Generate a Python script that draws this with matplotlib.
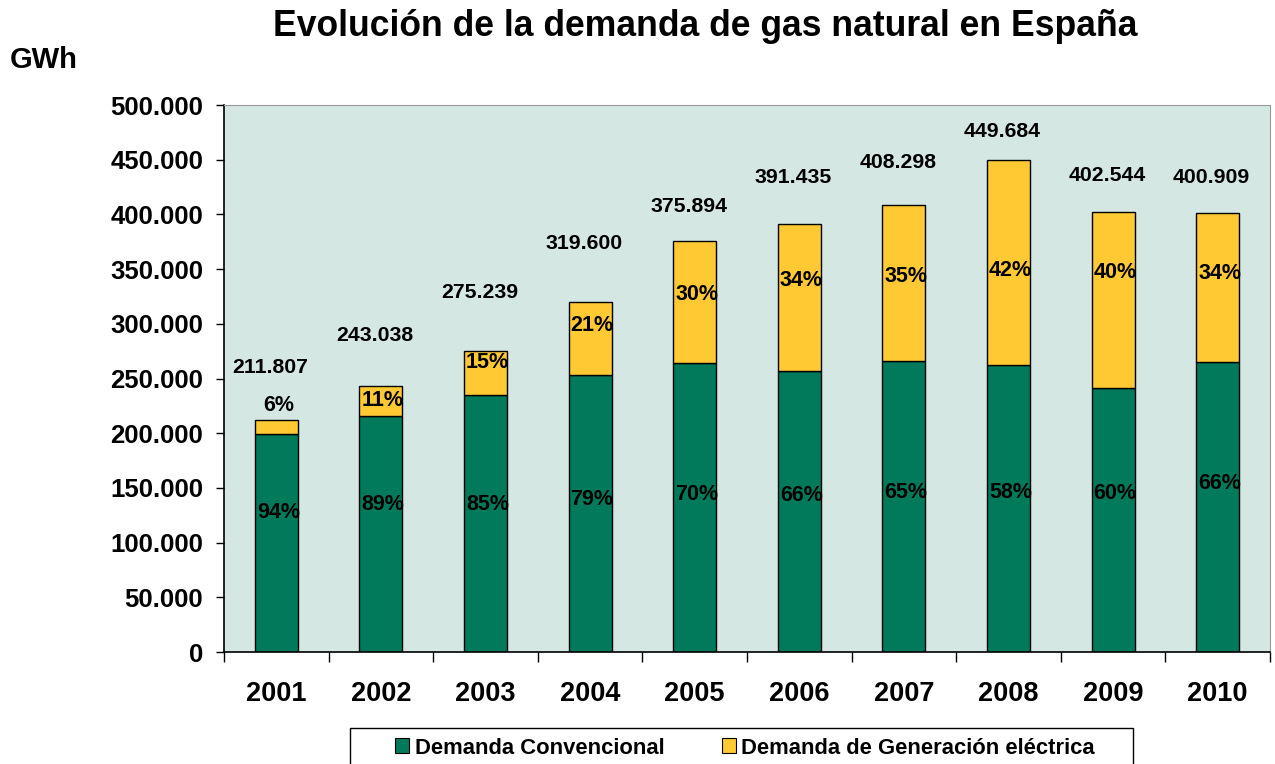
import numpy as np
import matplotlib
matplotlib.use('Agg')
import matplotlib.pyplot as plt
from matplotlib.ticker import FuncFormatter
from matplotlib.patches import Rectangle

plt.rcParams['font.family'] = ['Liberation Sans', 'DejaVu Sans']
plt.rcParams['font.weight'] = 'bold'

# data (GWh)
years = ['2001', '2002', '2003', '2004', '2005', '2006', '2007', '2008', '2009', '2010']
totals = [211807, 243038, 275239, 319600, 375894, 391435, 408298, 449684, 402544, 400909]
conv = [199000, 216000, 235000, 253000, 264000, 257000, 266000, 262000, 241000, 265000]
conv_pct = [94, 89, 85, 79, 70, 66, 65, 58, 60, 66]
gen_pct = [6, 11, 15, 21, 30, 34, 35, 42, 40, 34]
gen = [t - c for t, c in zip(totals, conv)]

# label nudges (pixels) to follow the original placement
total_pad = [53, 51, 58, 59, 34, 46, 43, 29, 36, 36]
conv_nudge = [31, 29, 19, 14, 13, 16, 14, 16, 27, 24]
gen_nudge = [22, 0, 10, 13, 7, 17, 7, -8, 27, 14]

green = '#007A5A'
yellow = '#FFC933'
bg = '#D4E7E3'

fig = plt.figure(figsize=(12.75, 7.64), dpi=100)
ax = fig.add_axes([224 / 1275, 112 / 764, 1046 / 1275, 547 / 764])
ax.set_facecolor(bg)

x = np.arange(len(years))
w = 0.41
ax.bar(x, conv, width=w, color=green, edgecolor='black', linewidth=1.0,
       label='Demanda Convencional')
ax.bar(x, gen, width=w, bottom=conv, color=yellow, edgecolor='black', linewidth=1.0,
       label='Demanda de Generación eléctrica')

fmt = lambda v: f'{v:,.0f}'.replace(',', '.')

for i in range(len(years)):
    ax.annotate(fmt(totals[i]), (x[i], totals[i]), xytext=(-6, total_pad[i]),
                textcoords='offset pixels', ha='center', va='center',
                fontsize=15.3)
    ax.annotate(f'{conv_pct[i]}%', (x[i], conv[i] / 2), xytext=(2, conv_nudge[i]),
                textcoords='offset pixels', ha='center', va='center',
                fontsize=15.5)
    ax.annotate(f'{gen_pct[i]}%', (x[i], conv[i] + gen[i] / 2), xytext=(2, gen_nudge[i]),
                textcoords='offset pixels', ha='center', va='center',
                fontsize=15.5)

ax.set_xlim(-0.5, len(years) - 0.5)
ax.set_ylim(0, 500000)
ax.set_yticks(np.arange(0, 500001, 50000))
ax.yaxis.set_major_formatter(FuncFormatter(lambda v, p: fmt(v)))
ax.tick_params(axis='y', length=6, width=1, direction='out', labelsize=18.5, pad=9)

ax.set_xticks(np.arange(-0.5, len(years), 1.0))
ax.set_xticklabels([])
ax.tick_params(axis='x', which='major', length=7, width=1, direction='out')
ax.set_xticks(x, minor=True)
ax.set_xticklabels(years, minor=True, fontsize=19.5)
ax.tick_params(axis='x', which='minor', length=0, pad=21)

for s in ['top', 'right']:
    ax.spines[s].set_color('#999999')
for s in ['left', 'bottom']:
    ax.spines[s].set_color('black')
    ax.spines[s].set_linewidth(1.2)

fig.text(705 / 1275, 1 - 27 / 764, 'Evolución de la demanda de gas natural en España',
         ha='center', va='center', fontsize=25.6)
fig.text(10 / 1275, 1 - 60 / 764, 'GWh', ha='left', va='center', fontsize=21)

# legend frame (runs past the bottom edge like the original)
fig.patches.append(Rectangle((350 / 1275, -0.02), 783 / 1275, 0.02 + 36 / 764,
                             transform=fig.transFigure, facecolor='white',
                             edgecolor='black', linewidth=1.0))
leg = fig.legend(loc='center', bbox_to_anchor=(745 / 1275, 1 - 748 / 764),
                 ncol=2, frameon=False, fontsize=15.8,
                 handlelength=0.65, handleheight=0.65, handletextpad=0.25,
                 columnspacing=2.6, borderpad=0.0)
for h in leg.legend_handles:
    h.set_edgecolor('black')
    h.set_linewidth(0.8)

fig.savefig('out.png', dpi=100)
